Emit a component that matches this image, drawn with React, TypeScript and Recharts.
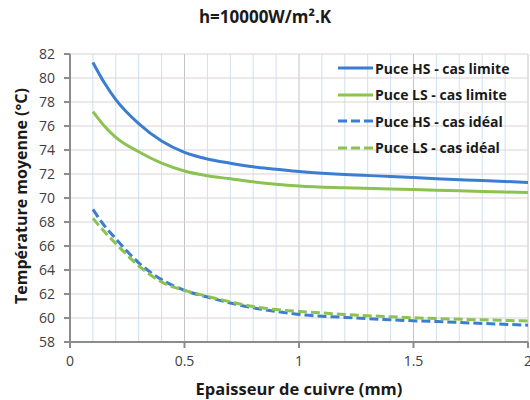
import React from 'react';
import { LineChart, Line, XAxis, YAxis, ReferenceLine } from 'recharts';

// Epaisseur de cuivre (mm)
const thickness = [0.1, 0.15, 0.2, 0.3, 0.4, 0.5, 0.6, 0.7, 0.8, 0.9, 1.0, 1.2, 1.4, 1.6, 1.8, 2.0];
// Température moyenne (°C)
const hsLimite = [81.3, 79.6, 78.2, 76.2, 74.75, 73.8, 73.25, 72.9, 72.6, 72.4, 72.2, 71.95, 71.8, 71.6, 71.45, 71.3];
const lsLimite = [77.2, 76.0, 75.05, 73.85, 72.9, 72.25, 71.85, 71.6, 71.35, 71.15, 71.0, 70.85, 70.75, 70.65, 70.55, 70.45];
const hsIdeal = [69.05, 67.7, 66.6, 64.6, 63.2, 62.3, 61.75, 61.25, 60.85, 60.55, 60.3, 60.05, 59.85, 59.7, 59.55, 59.4];
const lsIdeal = [68.3, 67.2, 66.2, 64.35, 63.0, 62.3, 61.8, 61.35, 60.95, 60.7, 60.55, 60.3, 60.1, 59.95, 59.85, 59.75];

const xTicks = [0, 0.5, 1, 1.5, 2];
const yTicks = [58, 60, 62, 64, 66, 68, 70, 72, 74, 76, 78, 80, 82];
const minorX = [0.1, 0.2, 0.3, 0.4, 0.6, 0.7, 0.8, 0.9, 1.1, 1.2, 1.3, 1.4, 1.6, 1.7, 1.8, 1.9];

const BLUE = '#3b7dd0';
const GREEN = '#8cc251';

const series = [
  { key: 'hsLimite', name: 'Puce HS - cas limite', color: BLUE, dash: undefined },
  { key: 'lsLimite', name: 'Puce LS - cas limite', color: GREEN, dash: undefined },
  { key: 'hsIdeal', name: 'Puce HS - cas idéal', color: BLUE, dash: '9 4' },
  { key: 'lsIdeal', name: 'Puce LS - cas idéal', color: GREEN, dash: '9 4' },
];

const data = thickness.map((x, i) => ({
  x,
  hsLimite: hsLimite[i],
  lsLimite: lsLimite[i],
  hsIdeal: hsIdeal[i],
  lsIdeal: lsIdeal[i],
}));

const FONT = '"Open Sans", sans-serif';
const AXIS = '#8c8c8c';
const INK = '#1a1a1a';

export default function App() {
  return (
    <div style={{ position: 'fixed', top: 0, left: 0, width: 530, height: 400, overflow: 'hidden', background: '#fff' }}>
      <div style={{
        position: 'absolute', top: 5, left: 0, width: 530, textAlign: 'center',
        fontFamily: FONT, fontWeight: 700, fontSize: 17, color: INK
      }}>
        h=10000W/m².K
      </div>

      <LineChart
        width={530}
        height={400}
        data={data}
        margin={{ top: 54, right: 2, bottom: 30, left: 30 }}
      >
        {minorX.map(v => (
          <ReferenceLine key={'m' + v} x={v} stroke="#cddff3" strokeWidth={1} />
        ))}
        {xTicks.slice(1).map(v => (
          <ReferenceLine key={'M' + v} x={v} stroke="#c4c4c4" strokeWidth={1} />
        ))}
        {yTicks.slice(1).map(v => (
          <ReferenceLine key={'h' + v} y={v} stroke="#ddd3d3" strokeWidth={1} />
        ))}
        <XAxis
          dataKey="x"
          type="number"
          domain={[0, 2]}
          ticks={xTicks}
          interval={0}
          height={28}
          stroke={AXIS}
          strokeWidth={2}
          tickSize={6}
          tickMargin={8}
          tick={{ fill: '#404040', fontSize: 14, fontFamily: FONT }}
        />
        <YAxis
          type="number"
          domain={[58, 82]}
          ticks={yTicks}
          interval={0}
          width={40}
          stroke={AXIS}
          strokeWidth={2}
          tickSize={6}
          tickMargin={9}
          tick={{ fill: '#404040', fontSize: 14, fontFamily: FONT }}
        />
        {series.map(s => (
          <Line
            key={s.key}
            type="monotone"
            dataKey={s.key}
            name={s.name}
            stroke={s.color}
            strokeWidth={3}
            strokeDasharray={s.dash}
            dot={false}
            isAnimationActive={false}
          />
        ))}
      </LineChart>

      {/* legend, inside the plot at top right */}
      <div style={{
        position: 'absolute', top: 55, left: 338,
        fontFamily: FONT, fontWeight: 700, fontSize: 14, color: INK
      }}>
        {series.map(s => (
          <div key={s.key} style={{ display: 'flex', alignItems: 'center', height: 26.5 }}>
            <svg width={36} height={6} style={{ marginRight: 1 }}>
              <line x1={0} y1={3} x2={35} y2={3} stroke={s.color} strokeWidth={3} strokeDasharray={s.dash} />
            </svg>
            <span>{s.name}</span>
          </div>
        ))}
      </div>

      <div style={{
        position: 'absolute', top: 379, left: 70, width: 458, textAlign: 'center',
        fontFamily: FONT, fontWeight: 700, fontSize: 16.5, lineHeight: '20px', color: INK
      }}>
        Epaisseur de cuivre (mm)
      </div>
      <div style={{
        position: 'absolute', left: 21, top: 196, width: 288, marginLeft: -144, marginTop: -11,
        transform: 'rotate(-90deg)', textAlign: 'center', lineHeight: '22px',
        fontFamily: FONT, fontWeight: 700, fontSize: 16, color: INK
      }}>
        Température moyenne (°C)
      </div>
    </div>
  );
}
